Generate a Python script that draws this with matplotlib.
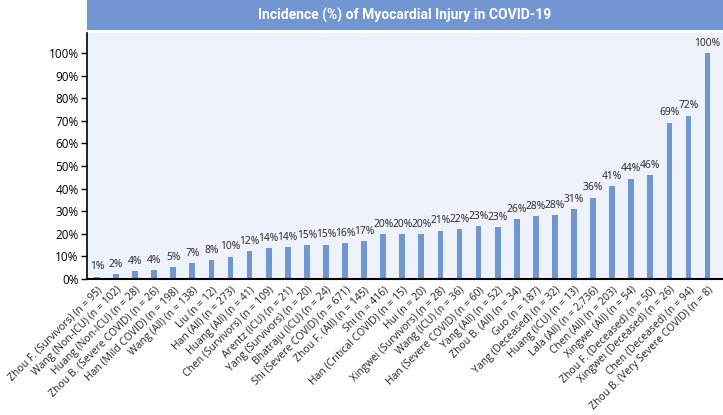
import matplotlib
matplotlib.use("Agg")
import matplotlib.pyplot as plt
from matplotlib.patches import Rectangle
from matplotlib.ticker import FuncFormatter

categories = [
    "Zhou F. (Survivors) (n = 95)", "Wang (Non-ICU) (n = 102)", "Huang (Non-ICU) (n = 28)",
    "Zhou B. (Severe COVID) (n = 26)", "Han (Mild COVID) (n = 198)", "Wang (All) (n = 138)",
    "Liu (n = 12)", "Han (All) (n = 273)", "Huang (All) (n = 41)", "Chen (Survivors) (n = 109)",
    "Arentz (ICU) (n = 21)", "Yang (Survivors) (n = 20)", "Bhatraju (ICU) (n = 24)",
    "Shi (Severe COVID) (n = 671)", "Zhou F. (All) (n = 145)", "Shi (n = 416)",
    "Han (Critical COVID) (n = 15)", "Hui (n = 20)", "Xingwei (Survivors) (n = 28)",
    "Wang (ICU) (n = 36)", "Han (Severe COVID) (n = 60)", "Yang (All) (n = 52)",
    "Zhou B. (All) (n = 34)", "Guo (n = 187)", "Yang (Deceased) (n = 32)", "Huang (ICU) (n = 13)",
    "Lala (All) (n = 2,736)", "Chen (All) (n = 203)", "Xingwei (All) (n = 54)",
    "Zhou F. (Deceased) (n = 50)", "Xingwei (Deceased) (n = 26)", "Chen (Deceased) (n = 94)",
    "Zhou B. (Very Severe COVID) (n = 8)",
]
values = [1.1, 2.0, 3.6, 3.8, 5.1, 7.2, 8.3, 9.9, 12.2, 13.8, 14.3, 15.0, 15.2, 15.8, 16.8,
          19.7, 20.0, 20.0, 21.4, 22.2, 23.3, 23.1, 26.5, 27.8, 28.1, 30.8, 36.0, 41.0,
          44.4, 46.0, 69.2, 72.3, 100.0]
value_labels = ["1%", "2%", "4%", "4%", "5%", "7%", "8%", "10%", "12%", "14%", "14%", "15%",
                "15%", "16%", "17%", "20%", "20%", "20%", "21%", "22%", "23%", "23%", "26%",
                "28%", "28%", "31%", "36%", "41%", "44%", "46%", "69%", "72%", "100%"]
title = "Incidence (%) of Myocardial Injury in COVID-19"

BAR = "#7196d1"
BG = "#eef2fa"

plt.rcParams['font.family'] = ['Open Sans', 'DejaVu Sans']

W, H = 723, 415
fig = plt.figure(figsize=(W / 100, H / 100), dpi=100)
fig.patch.set_facecolor("white")

left = 87 / W
ax = fig.add_axes([left, (H - 279) / H, 1 - left, (279 - 33) / H])
ax.set_facecolor(BG)

# Title banner
fig.patches.append(Rectangle((left, (H - 30) / H), 1 - left, 30 / H,
                             transform=fig.transFigure, facecolor=BAR, edgecolor="none"))
fig.text(left + (1 - left) / 2, (H - 15) / H, title, ha="center", va="center",
         color="white", fontsize=10, fontweight="bold",
         family=['Roboto', 'DejaVu Sans'])

x = list(range(len(categories)))
ax.bar(x, values, width=0.3, color=BAR, zorder=2)
for xi, v, lab in zip(x, values, value_labels):
    ax.annotate(lab, (xi, v), xytext=(0, 3), textcoords="offset points",
                ha="center", va="bottom", fontsize=7.4, color="#222222")

ax.set_xlim(-0.52, len(categories) - 1 + 0.81)
ax.set_ylim(0, 108.8)
ax.set_yticks(range(0, 101, 10))
ax.yaxis.set_major_formatter(FuncFormatter(lambda v, p: f"{int(round(v))}%"))
ax.tick_params(axis="y", length=4, width=1, colors="black", labelsize=8.5, pad=2)
ax.set_xticks(x)
ax.set_xticklabels(categories, rotation=45, ha="right", rotation_mode="anchor",
                   fontsize=7.5, color="#222222")
ax.tick_params(axis="x", length=0, pad=4)

for s in ["top", "right"]:
    ax.spines[s].set_visible(False)
ax.spines["left"].set_color("black")
ax.spines["left"].set_linewidth(1.2)
ax.spines["bottom"].set_color("black")
ax.spines["bottom"].set_linewidth(1.5)

fig.savefig("out.png", dpi=100)
